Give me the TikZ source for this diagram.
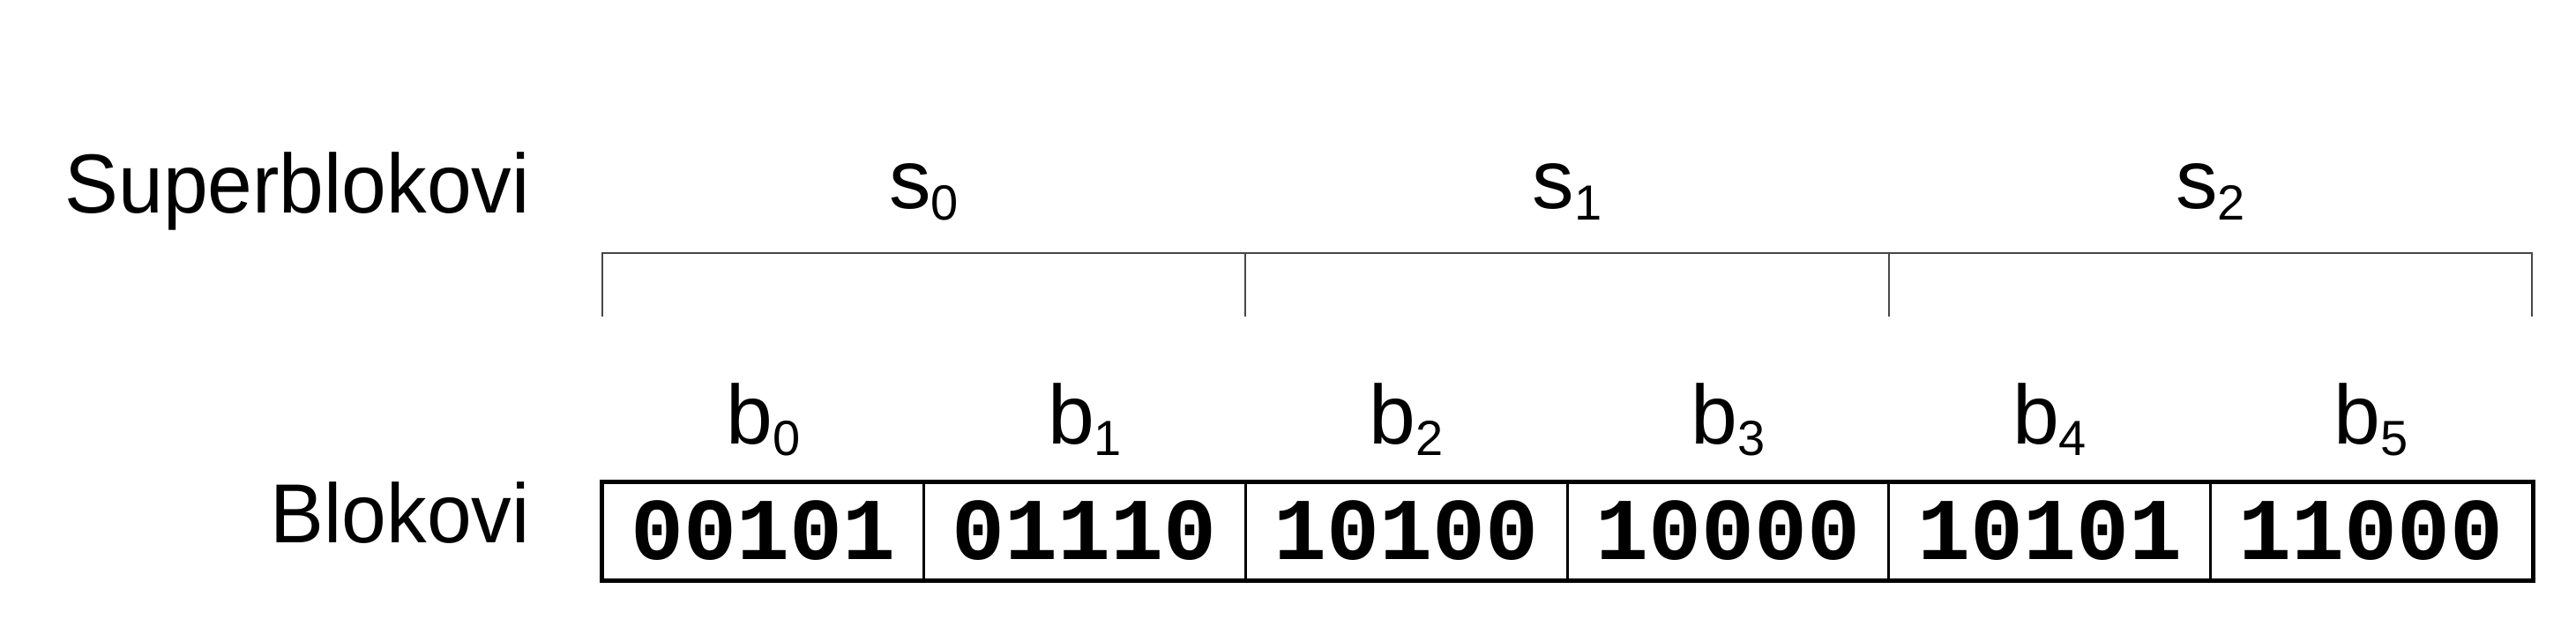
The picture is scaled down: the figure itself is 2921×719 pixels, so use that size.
\documentclass[tikz,border=0pt]{standalone}
\usepackage{fontspec}
\setmainfont{Liberation Sans}
\setmonofont{Liberation Mono}
\newfontfamily\narrowsans{Liberation Sans}[FakeStretch=0.96]
\newcommand{\subidx}[1]{\raisebox{-13pt}{\fontsize{56}{60}\selectfont #1}}
\begin{document}
\begin{tikzpicture}[x=1pt,y=-1pt,
  lab/.style={inner sep=0pt, anchor=base, font=\fontsize{95}{110}\selectfont},
  rowlab/.style={inner sep=0pt, anchor=base east, font=\fontsize{95}{110}\selectfont\narrowsans},
  cell/.style={draw, line width=3pt, minimum width=364.67pt, minimum height=110pt,
    inner sep=0pt, font=\fontsize{100}{110}\selectfont\ttfamily\bfseries},
  brace/.style={draw=black!72, line width=2pt}]
\useasboundingbox (0,0) rectangle (2921,719);
% row labels
\node[rowlab] (sup) at (601,242) {Superblokovi};
\node[rowlab] (blk) at (601,615) {Blokovi};
% cells
\foreach \i/\v in {0/00101,1/01110,2/10100,3/10000,4/10101,5/11000}{
  \node[cell] (c\i) at ({683+182.33+364.67*\i},602) {\v};
  \node[lab] (b\i) at ({683+182.33+364.67*\i},503) {b\subidx{\i}};
}
\draw[line width=4pt] (c0.north west) rectangle (c5.south east);
% superblock bracket
\foreach \j in {0,1,2,3}{
  \coordinate (t\j) at ({683+729.33*\j},287);
  \coordinate (u\j) at ({683+729.33*\j},359);
}
\draw[brace] (u0) -- (t0) -- (t3) -- (u3);
\draw[brace] (t1) -- (u1);
\draw[brace] (t2) -- (u2);
\foreach \j in {0,1,2}{
  \node[lab] (s\j) at ({683+364.67+729.33*\j},237) {s\subidx{\j}};
}
\end{tikzpicture}
\end{document}
